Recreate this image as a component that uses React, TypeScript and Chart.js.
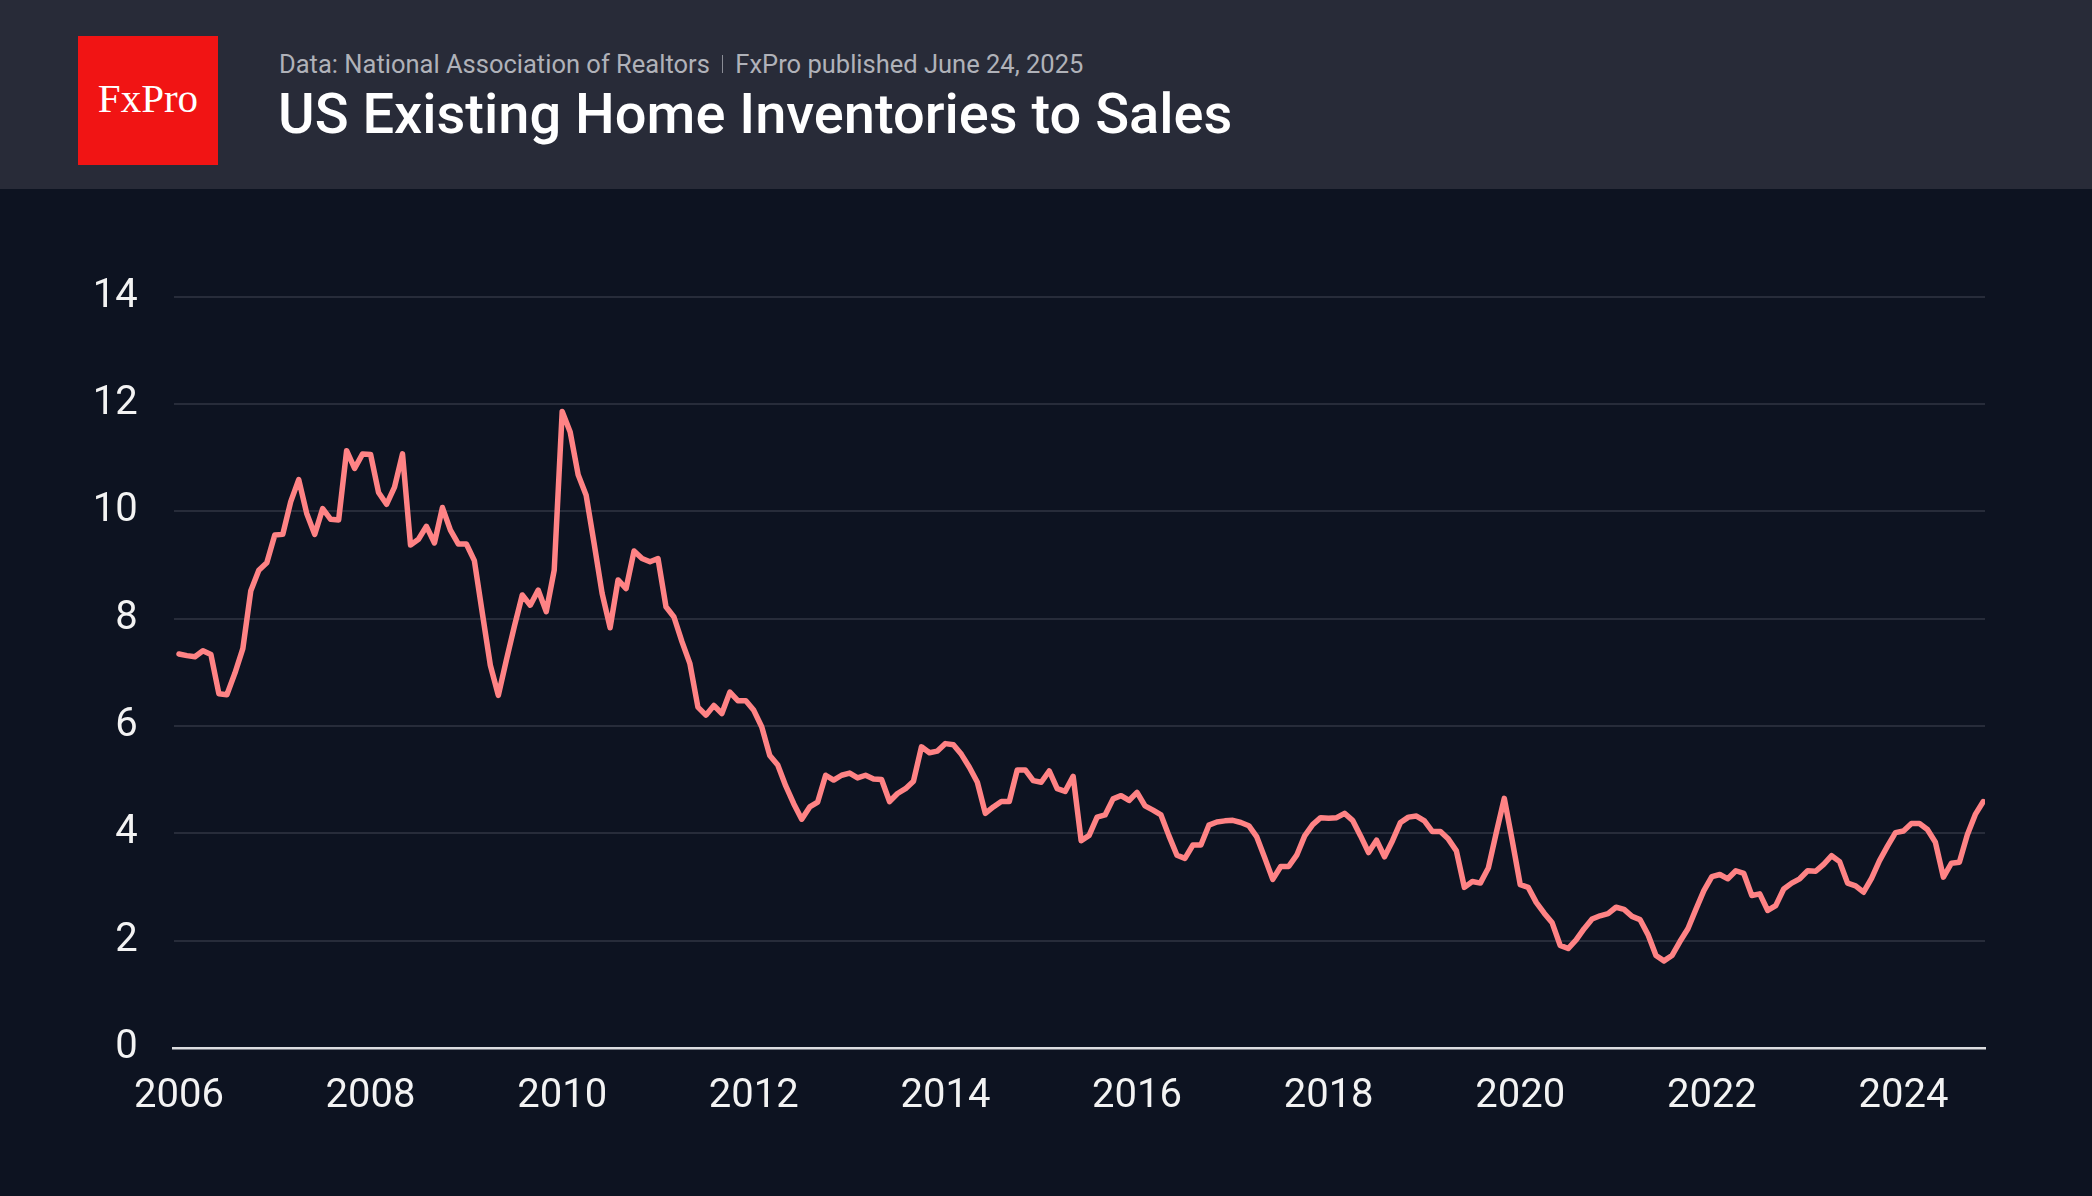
import React, { useEffect, useRef } from "react";
import { Chart, registerables } from "chart.js";

Chart.register(...registerables);

// ---- data ----
const START_YEAR = 2006; // first monthly observation (January)
const MONTHS_PER_YEAR = 12;

// Existing home inventories to sales (months of supply), monthly
const inventoryToSales: number[] = [
  7.34, 7.31, 7.29, 7.4, 7.33, 6.6, 6.58, 6.98, 7.44, 8.52, 8.9, 9.04,
  9.56, 9.57, 10.18, 10.59, 9.96, 9.57, 10.05, 9.85, 9.84, 11.13, 10.8, 11.07,
  11.06, 10.35, 10.13, 10.45, 11.07, 9.37, 9.48, 9.72, 9.41, 10.07, 9.65, 9.39,
  9.39, 9.08, 8.1, 7.13, 6.57, 7.22, 7.85, 8.44, 8.25, 8.53, 8.13, 8.9,
  11.86, 11.48, 10.68, 10.3, 9.4, 8.47, 7.83, 8.72, 8.56, 9.26, 9.12, 9.06,
  9.12, 8.22, 8.03, 7.57, 7.16, 6.35, 6.2, 6.38, 6.23, 6.63, 6.47, 6.47,
  6.29, 5.98, 5.45, 5.27, 4.88, 4.55, 4.26, 4.49, 4.58, 5.08, 4.99, 5.08,
  5.12, 5.03, 5.08, 5.01, 5.0, 4.59, 4.74, 4.83, 4.97, 5.61, 5.5, 5.53,
  5.67, 5.65, 5.47, 5.23, 4.95, 4.37, 4.49, 4.59, 4.59, 5.18, 5.18, 4.98,
  4.95, 5.16, 4.83, 4.78, 5.06, 3.86, 3.96, 4.3, 4.34, 4.64, 4.7, 4.61,
  4.76, 4.51, 4.43, 4.34, 3.95, 3.59, 3.53, 3.78, 3.78, 4.15, 4.21, 4.23,
  4.24, 4.2, 4.14, 3.93, 3.54, 3.14, 3.38, 3.38, 3.59, 3.95, 4.16, 4.29,
  4.28, 4.29, 4.37, 4.24, 3.95, 3.64, 3.87, 3.56, 3.86, 4.2, 4.3, 4.32,
  4.23, 4.03, 4.03, 3.89, 3.67, 2.99, 3.1, 3.07, 3.35, 4.01, 4.65, 3.86,
  3.04, 2.99, 2.71, 2.51, 2.33, 1.91, 1.85, 2.01, 2.22, 2.4, 2.46, 2.5,
  2.62, 2.58, 2.45, 2.39, 2.11, 1.72, 1.62, 1.72, 1.98, 2.22, 2.58, 2.93,
  3.19, 3.23, 3.15, 3.3, 3.25, 2.84, 2.87, 2.56, 2.65, 2.96, 3.07, 3.15,
  3.3, 3.29, 3.42, 3.58, 3.47, 3.07, 3.02, 2.9, 3.16, 3.49, 3.76, 4.01,
  4.04, 4.18, 4.18, 4.07, 3.83, 3.18, 3.44, 3.46, 3.97, 4.35, 4.59,
];

const yearTicks: number[] = [2006, 2008, 2010, 2012, 2014, 2016, 2018, 2020, 2022, 2024];
const valueTicks: number[] = [0, 2, 4, 6, 8, 10, 12, 14];

const TITLE = "US Existing Home Inventories to Sales";
const SOURCE = "Data: National Association of Realtors";
const PUBLISHED = "FxPro published June 24, 2025";
const BRAND = "FxPro";

// ---- styles ----
const BG = "#0d1321";
const HEADER_BG = "#282b38";
const LINE = "#ff8385";
const GRID = "#272c3a";
const TEXT = "#f3f3f3";

export default function App() {
  const canvasRef = useRef<HTMLCanvasElement>(null);

  useEffect(() => {
    document.body.style.margin = "0";
    document.body.style.background = BG;
    document.body.style.overflow = "hidden";

    const points = inventoryToSales.map((v, i) => ({
      x: START_YEAR + i / MONTHS_PER_YEAR,
      y: v,
    }));

    const chart = new Chart(canvasRef.current!, {
      type: "line",
      data: {
        datasets: [
          {
            data: points,
            borderColor: LINE,
            borderWidth: 5.5,
            pointRadius: 0,
            borderJoinStyle: "round",
            borderCapStyle: "round",
            tension: 0,
            fill: false,
          },
        ],
      },
      options: {
        animation: false,
        responsive: false,
        devicePixelRatio: 1,
        layout: { padding: { top: 107.7, right: 107, bottom: 68.2, left: 0 } },
        plugins: {
          legend: { display: false },
          tooltip: { enabled: false },
        },
        scales: {
          x: {
            type: "linear",
            min: 2005.945,
            max: 2024.851,
            afterBuildTicks: (axis: any) => {
              axis.ticks = yearTicks.map((v) => ({ value: v }));
            },
            afterFit: (axis: any) => {
              axis.height = 80;
            },
            grid: { display: false, drawTicks: false },
            border: { display: true, color: "#dcdde0", width: 2.5 },
            ticks: {
              color: TEXT,
              padding: 25,
              maxRotation: 0,
              autoSkip: false,
              font: { family: "Roboto", size: 40, weight: "400" as any },
              callback: (v: any) => String(v),
            },
          },
          y: {
            min: 0,
            max: 14,
            afterBuildTicks: (axis: any) => {
              axis.ticks = valueTicks.map((v) => ({ value: v }));
            },
            afterFit: (axis: any) => {
              axis.width = 173.7;
            },
            grid: {
              drawTicks: false,
              lineWidth: 2,
              color: (ctx: any) => (ctx.tick && ctx.tick.value === 0 ? "rgba(0,0,0,0)" : GRID),
            },
            border: { display: false },
            ticks: {
              color: TEXT,
              padding: 36,
              font: { family: "Roboto", size: 40, weight: "400" as any },
              callback: (v: any) => String(v),
            },
          },
        },
      },
    });
    return () => chart.destroy();
  }, []);

  return (
    <div
      style={{
        position: "absolute",
        left: 0,
        top: 0,
        width: 2092,
        height: 1196,
        background: BG,
        overflow: "hidden",
        fontFamily: "Roboto, sans-serif",
      }}
    >
      <div
        style={{
          position: "absolute",
          left: 0,
          top: 0,
          width: 2092,
          height: 189,
          background: HEADER_BG,
        }}
      />
      <div
        style={{
          position: "absolute",
          left: 78,
          top: 36,
          width: 140,
          height: 129,
          background: "#f11414",
          display: "flex",
          alignItems: "center",
          justifyContent: "center",
        }}
      >
        <span
          style={{
            fontFamily: "'Liberation Serif', serif",
            fontSize: 41,
            lineHeight: 1,
            color: "#ffffff",
            marginTop: -4,
          }}
        >
          {BRAND}
        </span>
      </div>
      <div
        style={{
          position: "absolute",
          left: 279,
          top: 51.5,
          fontSize: 25.5,
          lineHeight: 1,
          color: "#b0b2b9",
          whiteSpace: "nowrap",
          display: "flex",
          alignItems: "center",
        }}
      >
        <span>{SOURCE}</span>
        <span
          style={{
            display: "inline-block",
            width: 1.5,
            height: 18,
            background: "#8a8c95",
            margin: "0 12px",
          }}
        />
        <span>{PUBLISHED}</span>
      </div>
      <div
        style={{
          position: "absolute",
          left: 278,
          top: 85.5,
          fontSize: 56,
          fontWeight: 500,
          lineHeight: 1,
          color: "#ffffff",
          whiteSpace: "nowrap",
        }}
      >
        {TITLE}
      </div>
      <canvas
        ref={canvasRef}
        width={2092}
        height={1007}
        style={{ position: "absolute", left: 0, top: 189, width: 2092, height: 1007 }}
      />
    </div>
  );
}
